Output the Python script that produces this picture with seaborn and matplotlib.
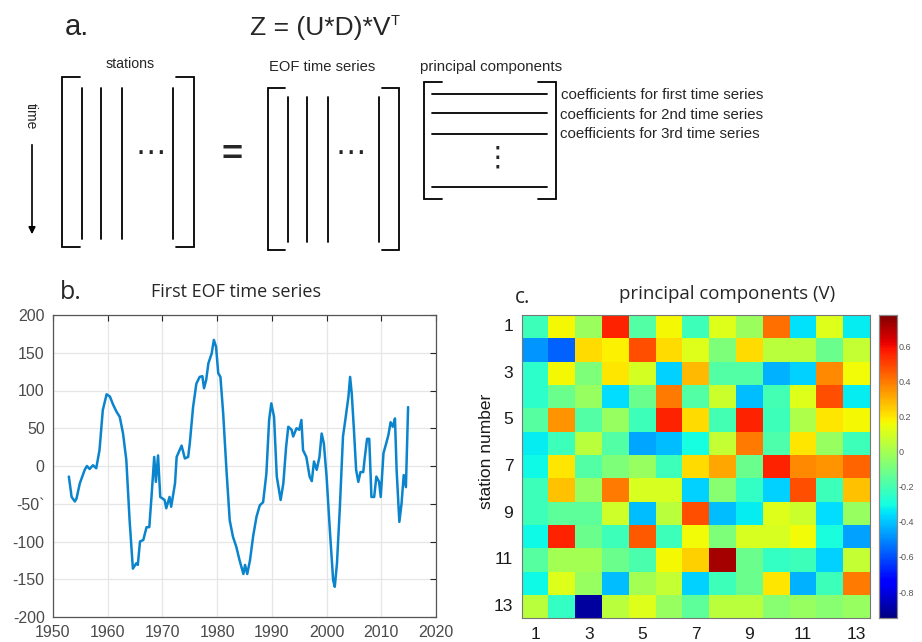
import numpy as np
import pandas as pd
import matplotlib
matplotlib.use("Agg")
import matplotlib.pyplot as plt
import seaborn as sns

# ---------------- data ----------------
years = [1952.9, 1953.4, 1954.0, 1954.3, 1954.9, 1955.8, 1956.2, 1956.7, 1957.3, 1957.9,
         1958.5, 1959.1, 1959.8, 1960.4, 1961.0, 1961.6, 1962.2, 1962.8, 1963.4, 1964.0,
         1964.6, 1965.2, 1965.5, 1965.9, 1966.5, 1967.1, 1967.6, 1968.0, 1968.5, 1968.8,
         1969.2, 1969.6, 1970.4, 1970.7, 1971.3, 1971.6, 1972.3, 1972.6, 1973.5, 1974.1,
         1974.7, 1975.0, 1975.6, 1976.2, 1976.8, 1977.3, 1977.6, 1978.0, 1978.4, 1979.0,
         1979.4, 1979.8, 1980.2, 1980.6, 1981.1, 1981.7, 1982.3, 1982.9, 1983.5, 1984.1,
         1984.8, 1985.1, 1985.5, 1986.0, 1986.6, 1987.2, 1987.8, 1988.4, 1989.0, 1989.5,
         1989.9, 1990.4, 1990.9, 1991.6, 1992.1, 1992.6, 1993.0, 1993.6, 1993.9, 1994.5,
         1995.0, 1995.4, 1995.7, 1996.3, 1996.9, 1997.3, 1997.7, 1998.2, 1998.7, 1999.1,
         1999.5, 2000.0, 2000.6, 2001.2, 2001.5, 2001.9, 2002.4, 2003.0, 2003.5, 2004.0,
         2004.3, 2004.6, 2005.0, 2005.4, 2005.8, 2006.2, 2006.7, 2007.0, 2007.4, 2007.8,
         2008.2, 2008.7, 2009.1, 2009.6, 2009.9, 2010.4, 2010.9, 2011.3, 2011.7, 2012.1,
         2012.5, 2012.8, 2013.3, 2013.7, 2014.1, 2014.5, 2014.9]
eof1 = [-14, -41, -47, -43, -23, -5, 0, -4, 1, -3,
        21, 74, 95, 92, 81, 72, 65, 43, 8, -72,
        -136, -129, -131, -100, -98, -81, -81, -41, 12, -21,
        14, -41, -45, -56, -41, -54, -23, 12, 27, 10,
        12, 30, 78, 109, 118, 119, 103, 114, 136, 149,
        167, 158, 123, 118, 70, -5, -72, -94, -107, -125,
        -143, -131, -143, -125, -92, -67, -52, -48, -10, 61,
        83, 65, -14, -45, -23, 25, 52, 48, 39, 50,
        48, 61, 21, 12, -14, -20, 6, -5, 12, 43,
        30, -14, -85, -151, -160, -129, -59, 39, 65, 92,
        118, 96, 48, -5, -21, -8, -8, 12, 36, 36,
        -41, -41, -14, -21, -41, 17, 30, 41, 58, 52,
        63, -5, -74, -50, -12, -28, 78]

year_ticks = [1950, 1960, 1970, 1980, 1990, 2000, 2010, 2020]
value_ticks = [-200, -150, -100, -50, 0, 50, 100, 150, 200]
value_tick_labels = ["-200", "-150", "-100", "-50`", "0", "50", "100", "150", "200"]

stations = list(range(1, 14))
pc_row01 = [-0.22, 0.17, -0.02, 0.56, -0.17, 0.17, -0.22, 0.12, -0.02, 0.42, -0.35, 0.12, -0.33]
pc_row02 = [-0.48, -0.57, 0.22, 0.18, 0.48, 0.22, 0.12, -0.08, 0.22, 0.05, 0.05, -0.12, 0.07]
pc_row03 = [-0.25, 0.17, -0.08, 0.20, 0.10, -0.38, 0.28, -0.17, -0.17, -0.43, -0.38, 0.37, 0.16]
pc_row04 = [-0.25, -0.12, -0.03, -0.36, -0.12, 0.40, -0.17, 0.08, -0.41, -0.20, 0.12, 0.48, -0.33]
pc_row05 = [-0.16, 0.35, -0.17, -0.03, -0.22, 0.56, 0.22, -0.20, 0.56, -0.22, 0.02, 0.20, 0.17]
pc_row06 = [-0.33, -0.22, 0.05, -0.17, -0.45, -0.41, -0.30, 0.07, 0.40, -0.18, 0.20, -0.03, -0.22]
pc_row07 = [-0.31, 0.20, -0.17, -0.08, -0.03, -0.22, 0.22, 0.32, -0.12, 0.56, 0.37, 0.35, 0.44]
pc_row08 = [-0.22, 0.27, -0.03, 0.40, 0.11, 0.11, -0.38, -0.06, -0.24, -0.38, 0.48, -0.22, 0.27]
pc_row09 = [-0.22, -0.15, -0.15, 0.09, -0.41, 0.05, 0.48, -0.41, -0.33, 0.12, 0.08, -0.36, -0.03]
pc_row10 = [-0.31, 0.56, -0.12, -0.22, 0.46, -0.22, 0.16, -0.08, 0.11, 0.11, 0.16, -0.29, -0.46]
pc_row11 = [-0.16, 0.00, 0.00, -0.12, -0.19, 0.17, 0.24, 0.72, -0.12, -0.24, -0.22, -0.38, 0.07]
pc_row12 = [-0.31, 0.12, -0.03, -0.41, 0.00, 0.07, -0.38, -0.22, -0.12, 0.20, -0.43, -0.22, 0.40]
pc_row13 = [0.05, -0.24, -0.90, 0.05, 0.12, -0.03, -0.15, 0.05, 0.05, -0.06, -0.03, -0.06, -0.03]
cbar_ticks = [-0.8, -0.6, -0.4, -0.2, 0, 0.2, 0.4, 0.6]
cbar_tick_labels = ["-0.8", "-0.6", "-0.4", "-0.2", "0", "0.2", "0.4", "0.6"]

# ---------------- style ----------------
sns.set_style("white")
plt.rcParams["font.family"] = ["Liberation Sans", "DejaVu Sans"]

W, H = 922, 642
fig = plt.figure(figsize=(W / 100, H / 100), dpi=100)


def fx(px):
    return px / W


def fy(py):
    return 1 - py / H


# ---------------- panel a (schematic) ----------------
axa = fig.add_axes([0, 0, 1, 1], zorder=-1)
axa.set_xlim(0, W)
axa.set_ylim(H, 0)
axa.axis("off")
lw = 1.3


def brackets(x0, x1, y0, y1, s):
    axa.plot([x0 + s, x0, x0, x0 + s], [y0, y0, y1, y1], color="black", lw=lw, solid_joinstyle="miter")
    axa.plot([x1 - s, x1, x1, x1 - s], [y0, y0, y1, y1], color="black", lw=lw, solid_joinstyle="miter")


brackets(62, 194, 77, 247, 18)
for x in [82, 101, 122, 173]:
    axa.plot([x, x], [88, 239], color="black", lw=lw)
axa.text(151, 153, "\u22ef", family="DejaVu Sans", fontsize=22,
         ha="center", va="center")

brackets(268, 399, 88, 250, 17)
for x in [288, 307, 328, 379]:
    axa.plot([x, x], [97, 242], color="black", lw=lw)
axa.text(351, 153, "\u22ef", family="DejaVu Sans", fontsize=22,
         ha="center", va="center")

brackets(424, 556, 82, 199, 18)
for y in [94, 113, 134, 187]:
    axa.plot([432, 547], [y, y], color="black", lw=lw)
axa.text(497, 158, "\u22ee", family="DejaVu Sans", fontsize=20,
         ha="center", va="center")

axa.text(232, 156, "=", fontsize=26, fontweight="bold", ha="center", va="center")
axa.text(31, 116, "time", fontsize=10, rotation=-90, ha="center", va="center")
axa.annotate("", xy=(32, 237), xytext=(32, 142),
             arrowprops=dict(arrowstyle="-|>", lw=1.2, color="black", mutation_scale=10))
axa.text(65, 35, "a.", fontsize=21, ha="left", va="baseline")
axa.text(250, 35, "Z = (U*D)*V", fontsize=19, ha="left", va="baseline")
axa.text(391, 25, "T", fontsize=10.5, ha="left", va="baseline")
axa.text(130, 64, "stations", fontsize=10.2, ha="center", va="center")
axa.text(322, 67, "EOF time series", fontsize=10.6, ha="center", va="center")
axa.text(420, 67, "principal components", fontsize=10.8, ha="left", va="center")
axa.text(561, 95, "coefficients for first time series", fontsize=10.8, ha="left", va="center")
axa.text(560, 115, "coefficients for 2nd time series", fontsize=10.8, ha="left", va="center")
axa.text(560, 134, "coefficients for 3rd time series", fontsize=10.8, ha="left", va="center")

# ---------------- panel b (time series) ----------------
axb = fig.add_axes([fx(53), fy(617), fx(436) - fx(53), fy(315) - fy(617)])
df = pd.DataFrame({"year": years, "eof": eof1})
sns.lineplot(data=df, x="year", y="eof", ax=axb, color="#0a84cc", lw=1.8,
             sort=False, estimator=None)
axb.set_xlim(1950, 2020)
axb.set_ylim(-200, 200)
axb.set_xticks(year_ticks)
axb.set_yticks(value_ticks)
axb.set_yticklabels(value_tick_labels)
axb.set_xlabel("")
axb.set_ylabel("")
axb.grid(True, color="#e6e6e6", lw=0.9)
axb.set_axisbelow(True)
axb.tick_params(direction="in", top=True, right=True, length=4, width=0.8,
                labelsize=11.5, colors="#262626", labelcolor="#4a4a4a", pad=6)
for sp in axb.spines.values():
    sp.set_color("#555555")
    sp.set_linewidth(0.9)
fig.text(fx(60), fy(299), "b.", fontsize=18, family=["Open Sans", "DejaVu Sans"], va="baseline")
fig.text(fx(236), fy(297), "First EOF time series", fontsize=13,
         family=["Open Sans", "DejaVu Sans"], ha="center", va="baseline")

# ---------------- panel c (heatmap) ----------------
pc = pd.DataFrame([pc_row01, pc_row02, pc_row03, pc_row04, pc_row05, pc_row06, pc_row07,
                   pc_row08, pc_row09, pc_row10, pc_row11, pc_row12, pc_row13],
                  index=stations, columns=stations)
axc = fig.add_axes([fx(521.7), fy(618.3), fx(870) - fx(521.7), fy(315) - fy(618.3)])
cax = fig.add_axes([fx(879), fy(618.3), fx(897) - fx(879), fy(315) - fy(618.3)])
sns.heatmap(pc, ax=axc, cbar_ax=cax, cmap="jet", vmin=-0.95, vmax=0.78,
            cbar_kws={"ticks": cbar_ticks})
n = len(stations)
odd_pos = np.arange(0, n, 2) + 0.5
even_pos = np.arange(1, n, 2) + 0.5
axc.set_xticks(odd_pos)
axc.set_xticklabels([str(stations[i]) for i in range(0, n, 2)], rotation=0)
axc.set_yticks(odd_pos)
axc.set_yticklabels([str(stations[i]) for i in range(0, n, 2)], rotation=0)
axc.set_xticks(even_pos, minor=True)
axc.set_yticks(even_pos, minor=True)
axc.tick_params(which="major", length=0, labelsize=12.5, labelcolor="#1a1a1a", pad=6)
axc.tick_params(which="minor", direction="in", length=4, width=0.8, color="#444444",
                top=True, bottom=True, left=True, right=True)
for sp in axc.spines.values():
    sp.set_visible(True)
    sp.set_color("#777777")
    sp.set_linewidth(0.8)
axc.set_xlabel("")
axc.set_ylabel("station number", fontsize=12.5, color="#1a1a1a")
axc.yaxis.set_label_coords(-0.08, 0.552)
cax.set_yticklabels(cbar_tick_labels)
cax.tick_params(direction="in", length=3, width=0.6, labelsize=6.5, colors="#555555",
                labelcolor="#555555", pad=1)
for sp in cax.spines.values():
    sp.set_visible(True)
    sp.set_color("#888888")
    sp.set_linewidth(0.8)
fig.text(fx(515), fy(303), "c.", fontsize=15, family=["Open Sans", "DejaVu Sans"], va="baseline")
fig.text(fx(727), fy(299), "principal components (V)", fontsize=13.4,
         family=["Open Sans", "DejaVu Sans"], ha="center", va="baseline")

fig.savefig("out.png", dpi=100)
